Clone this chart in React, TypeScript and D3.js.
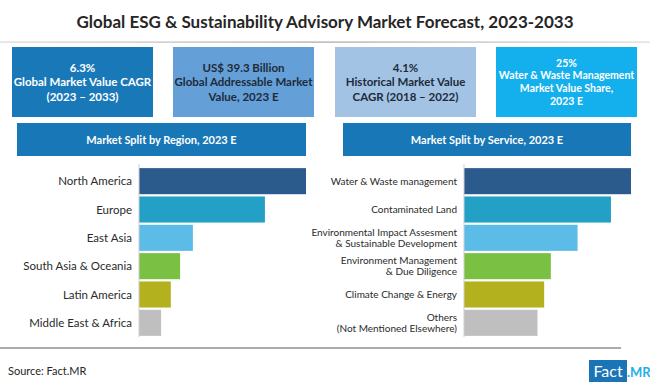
import * as d3 from 'd3';

const regions = ['North America', 'Europe', 'East Asia', 'South Asia & Oceania', 'Latin America', 'Middle East & Africa'];
const regionShare = [37.8, 28.5, 12.2, 9.3, 7.2, 5.0];

const services = [
  ['Water & Waste management'],
  ['Contaminated Land'],
  ['Environmental Impact Assesment', '& Sustainable Development'],
  ['Environment Management', '& Due Diligence'],
  ['Climate Change & Energy'],
  ['Others', '(Not Mentioned Elsewhere)'],
];
const serviceShare = [25, 22, 17, 13, 12, 11];

const barColors = ['#2b5a8c', '#22a0c6', '#5bbce8', '#7ac143', '#b4b11f', '#bfbfbf'];

const kpiLines = [
  ['6.3%', 'Global Market Value CAGR', '(2023 – 2033)'],
  ['US$ 39.3 Billion', 'Global Addressable Market', 'Value, 2023 E'],
  ['4.1%', 'Historical Market Value', 'CAGR (2018 – 2022)'],
  ['25%', 'Water & Waste Management', 'Market Value Share,', '2023 E'],
];
const kpiFill = ['#1878b8', '#659fd7', '#a3c3e5', '#14b0ee'];
const kpiText = ['#ffffff', '#1d2b3a', '#1d2b3a', '#ffffff'];
const kpiX = [12, 173, 335, 496];

const FONT = 'Lato, "Noto Sans", sans-serif';

function BarPanel({ labels, values, x0, x1, headerX0, headerX1, title, fontSize }: {
  labels: string[][]; values: number[]; x0: number; x1: number;
  headerX0: number; headerX1: number; title: string; fontSize: number;
}) {
  const y = d3.scaleBand<number>().domain(d3.range(labels.length)).range([167, 337]).paddingInner(0.08).paddingOuter(0.04);
  const x = d3.scaleLinear().domain([0, d3.max(values) as number]).range([x0, x1]);
  return (
    <g>
      <rect x={headerX0} y={123} width={headerX1 - headerX0} height={33} fill="#1777b7" />
      <text x={(headerX0 + headerX1) / 2} y={143.5} textAnchor="middle" fill="#fff" fontSize={11} fontWeight={700} fontFamily={FONT}>{title}</text>
      {values.map((v, i) => (
        <rect key={i} x={x(0)} y={y(i)} width={x(v) - x(0)} height={y.bandwidth()} fill={barColors[i]} />
      ))}
      <line x1={x0} x2={x0} y1={164} y2={337} stroke="#cfcfcf" strokeWidth={1} />
      {labels.map((lines, i) => {
        const cy = (y(i) as number) + y.bandwidth() / 2;
        const lh = fontSize * 1.05;
        const top = cy - ((lines.length - 1) * lh) / 2;
        return (
          <text key={i} textAnchor="end" fill="#2a2a2a" fontSize={fontSize} fontFamily={FONT}>
            {lines.map((l, j) => (
              <tspan key={j} x={x0 - 7} y={top + j * lh} dy="0.35em">{l}</tspan>
            ))}
          </text>
        );
      })}
    </g>
  );
}

export default function App() {
  return (
    <div style={{ position: 'absolute', left: 0, top: 0 }}>
      <svg width={650} height={385} viewBox="0 0 650 385" style={{ display: 'block', background: '#fff' }}>
        <defs>
          <linearGradient id="fade" x1="0" x2="1">
            <stop offset="0" stopColor="#d9d9d9" />
            <stop offset="0.5" stopColor="#a6a6a6" />
            <stop offset="1" stopColor="#d9d9d9" />
          </linearGradient>
        </defs>
        <text x={325} y={28} textAnchor="middle" fontSize={17} fontWeight={700} fill="#262626" fontFamily={FONT}>
          Global ESG &amp; Sustainability Advisory Market Forecast, 2023-2033
        </text>
        <rect x={0} y={41.5} width={650} height={1.2} fill="url(#fade)" />

        {kpiLines.map((lines, i) => {
          const lh = lines.length > 3 ? 12.7 : 14.5;
          const cy = 82;
          const top = cy - ((lines.length - 1) * lh) / 2;
          return (
            <g key={i}>
              <rect x={kpiX[i]} y={47} width={141} height={70} fill={kpiFill[i]} />
              <text textAnchor="middle" fill={kpiText[i]} fontSize={lines.length > 3 ? 10.5 : 11.5} fontWeight={700} fontFamily={FONT}>
                {lines.map((l, j) => (
                  <tspan key={j} x={kpiX[i] + 70.5} y={top + j * lh} dy="0.35em">{l}</tspan>
                ))}
              </text>
            </g>
          );
        })}

        <BarPanel labels={regions.map((r) => [r])} values={regionShare} x0={139} x1={306}
          headerX0={17} headerX1={306} title="Market Split by Region, 2023 E" fontSize={11.5} />
        <BarPanel labels={services} values={serviceShare} x0={464} x1={631}
          headerX0={343} headerX1={631} title="Market Split by Service, 2023 E" fontSize={10} />

        <rect x={0} y={347.5} width={621} height={1} fill="#595959" />
        <text x={8} y={375} fontSize={11} fill="#262626" fontFamily={FONT}>Source: Fact.MR</text>
        <rect x={589} y={360} width={38} height={22} fill="#1a74b5" />
        <text x={608} y={377} textAnchor="middle" fontSize={16} fill="#fff" fontFamily={FONT}>Fact</text>
        <text x={627} y={377} fontSize={13} fontWeight={700} fill="#1fb0e8" fontFamily={FONT}>.MR</text>
      </svg>
    </div>
  );
}
